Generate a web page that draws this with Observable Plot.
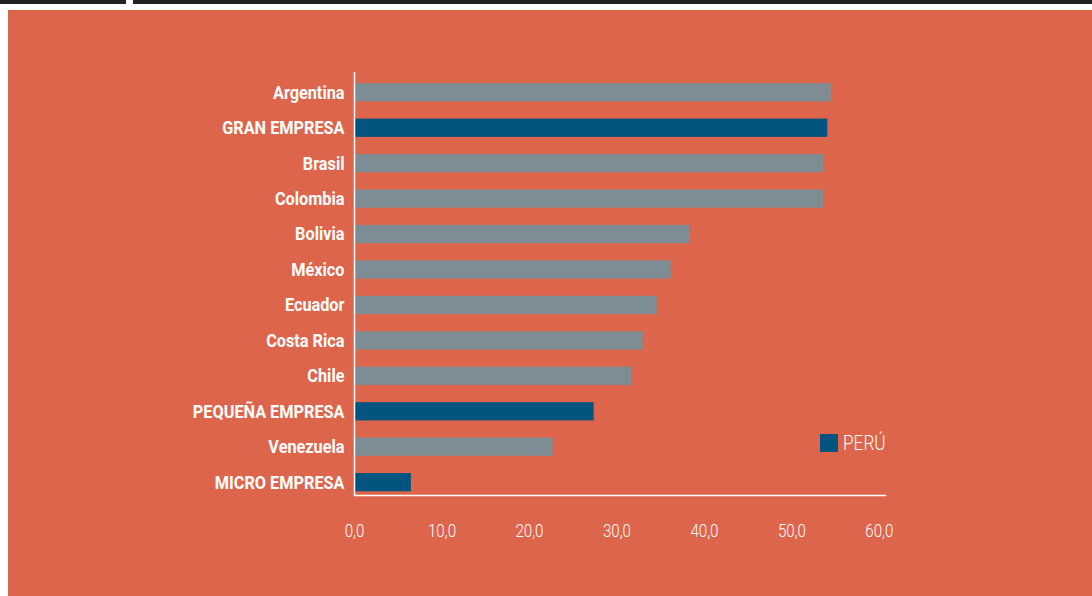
<!DOCTYPE html>
<html>
<head>
<meta charset="utf-8">
<script src="https://cdn.jsdelivr.net/npm/d3@7"></script>
<script src="https://cdn.jsdelivr.net/npm/@observablehq/plot@0.6"></script>
<style>
  html, body { margin: 0; padding: 0; background: #ffffff; }
  #page { position: relative; width: 1092px; height: 596px; overflow: hidden; background: #ffffff; }
  #stripeL { position: absolute; left: 0; top: 0; width: 126px; height: 4px; background: #222222; }
  #stripeR { position: absolute; left: 133px; top: 0; width: 959px; height: 4px; background: #222222; }
  #panel { position: absolute; left: 8px; top: 10px; width: 1084px; height: 586px; background: #DD654B; }
  #chart { position: absolute; left: 0; top: 0; }
  #legend { position: absolute; left: 820px; top: 434px; height: 18px; }
  #legend .sw { position: absolute; left: 0; top: 0; width: 18px; height: 18px; background: #02557E; }
  #legend .lab { position: absolute; left: 23px; top: -3px; font-family: Roboto, sans-serif; font-weight: 300;
                 font-size: 21px; line-height: 24px; color: #ffffff; white-space: nowrap;
                 transform: scaleX(0.82); transform-origin: left center; }
</style>
</head>
<body>
<div id="page">
  <div id="stripeL"></div>
  <div id="stripeR"></div>
  <div id="panel"></div>
  <div id="chart"></div>
  <div id="legend"><div class="sw"></div><span class="lab" id="legendLabel"></span></div>
</div>
<script>
const categories = ["Argentina", "GRAN EMPRESA", "Brasil", "Colombia", "Bolivia", "México", "Ecuador", "Costa Rica", "Chile", "PEQUEÑA EMPRESA", "Venezuela", "MICRO EMPRESA"];
const values = [54.5, 54.1, 53.6, 53.6, 38.3, 36.2, 34.6, 33.0, 31.7, 27.4, 22.7, 6.5];
const isPeru = [false, true, false, false, false, false, false, false, false, true, false, true];
const tickValues = [0, 10, 20, 30, 40, 50, 60];
const tickLabels = ["0,0", "10,0", "20,0", "30,0", "40,0", "50,0", "60,0"];
const legendLabel = "PERÚ";

const data = categories.map((c, i) => ({category: c, value: values[i], peru: isPeru[i]}));
document.getElementById("legendLabel").textContent = legendLabel;

const chart = Plot.plot({
  width: 1092,
  height: 596,
  marginLeft: 354,
  marginRight: 207,
  marginTop: 72,
  marginBottom: 101,
  style: {background: "transparent", color: "#ffffff", fontFamily: "Roboto, sans-serif"},
  x: {domain: [0, 60.7], axis: null},
  y: {domain: categories, paddingInner: 0.485, paddingOuter: 0.21, align: 0.75, round: false, axis: null},
  marks: [
    Plot.barX(data, {x: "value", y: "category", fill: d => d.peru ? "#02557E" : "#7E8C94"}),
    Plot.ruleX([0], {stroke: "#ffffff", strokeWidth: 1.5}),
    Plot.frame({anchor: "bottom", stroke: "#ffffff", strokeWidth: 1.5}),
    Plot.axisY({tickSize: 0, tickPadding: 10, fontSize: 18.5, fontWeight: "bold", fill: "#ffffff", label: null}),
    Plot.axisX({ticks: tickValues, tickFormat: (d, i) => tickLabels[i], tickSize: 0, tickPadding: 29, fontSize: 18, fontWeight: 300, fill: "#ffffff", label: null})
  ]
});
document.getElementById("chart").appendChild(chart);

// emulate the condensed typeface of the reference by narrowing the glyphs horizontally
function condenseText(t, k) {
  const tr = t.getAttribute("transform");
  if (tr) t.setAttribute("transform", tr + ` scale(${k},1)`);
  else {
    const x = +t.getAttribute("x") || 0;
    t.setAttribute("transform", `translate(${x},0) scale(${k},1) translate(${-x},0)`);
  }
}
chart.querySelectorAll("text").forEach(t => {
  const s = t.textContent.trim();
  if (categories.includes(s)) condenseText(t, 0.88);
  else if (tickLabels.includes(s)) condenseText(t, 0.84);
});
</script>
</body>
</html>
